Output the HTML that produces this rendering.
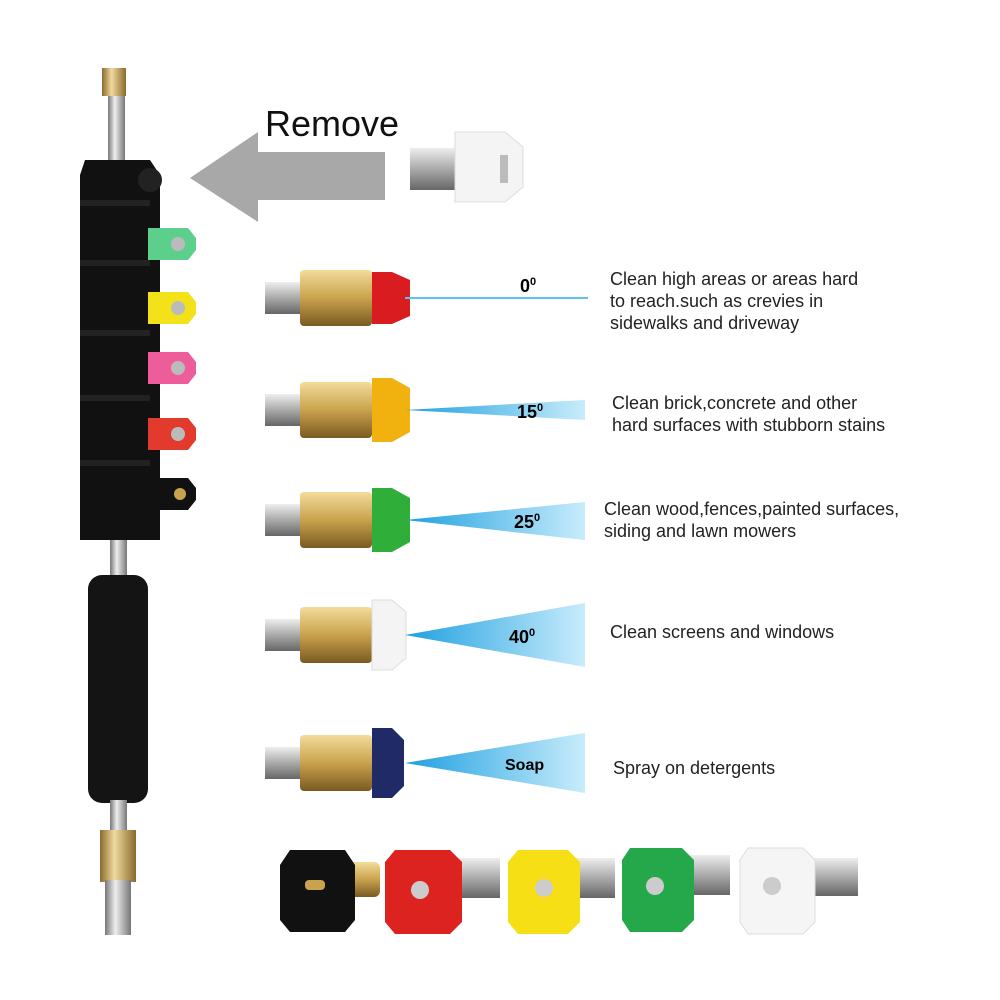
<!DOCTYPE html>
<html><head><meta charset="utf-8"><style>
body{margin:0;background:#fff;}
svg{display:block;}
text{font-family:"Liberation Sans",sans-serif;}
</style></head><body>
<svg width="1000" height="1000" viewBox="0 0 1000 1000" xmlns="http://www.w3.org/2000/svg">
<defs>
<linearGradient id="silver" x1="0" y1="0" x2="0" y2="1"><stop offset="0" stop-color="#eee"/><stop offset=".5" stop-color="#aaa"/><stop offset="1" stop-color="#666"/></linearGradient>
<linearGradient id="silverv" x1="0" y1="0" x2="1" y2="0"><stop offset="0" stop-color="#777"/><stop offset=".4" stop-color="#eee"/><stop offset="1" stop-color="#777"/></linearGradient>
<linearGradient id="brass" x1="0" y1="0" x2="0" y2="1"><stop offset="0" stop-color="#f3dc9a"/><stop offset=".5" stop-color="#c9a24e"/><stop offset="1" stop-color="#7a5a20"/></linearGradient>
<linearGradient id="brassv" x1="0" y1="0" x2="1" y2="0"><stop offset="0" stop-color="#8a6a2a"/><stop offset=".4" stop-color="#f0d9a0"/><stop offset="1" stop-color="#8a6a2a"/></linearGradient>
<linearGradient id="spray" x1="0" y1="0" x2="1" y2="0"><stop offset="0" stop-color="#1fa0e0"/><stop offset="1" stop-color="#c8ecfb"/></linearGradient>
</defs>

<rect x="102" y="68" width="24" height="28" fill="url(#brassv)"/>
<rect x="108" y="96" width="17" height="70" fill="url(#silverv)"/>
<path d="M85 160 L150 160 L160 175 L160 540 L80 540 L80 175 Z" fill="#111"/>
<g fill="#222">
<rect x="80" y="200" width="70" height="6"/><rect x="80" y="260" width="70" height="6"/><rect x="80" y="330" width="70" height="6"/><rect x="80" y="395" width="70" height="6"/><rect x="80" y="460" width="70" height="6"/>
</g>
<circle cx="150" cy="180" r="12" fill="#222"/>
<rect x="110" y="540" width="17" height="40" fill="url(#silverv)"/>
<rect x="88" y="575" width="60" height="228" rx="14" fill="#141414"/>
<rect x="110" y="800" width="17" height="32" fill="url(#silverv)"/>
<rect x="100" y="830" width="36" height="52" fill="url(#brassv)"/>
<rect x="105" y="880" width="26" height="55" fill="url(#silverv)"/>

<g>
<path d="M148 228 h40 l8 10 v12 l-8 10 h-40 z" fill="#5ccf8c"/><circle cx="178" cy="244" r="7" fill="#bbb"/>
<path d="M148 292 h40 l8 10 v12 l-8 10 h-40 z" fill="#f3e21a"/><circle cx="178" cy="308" r="7" fill="#bbb"/>
<path d="M148 352 h40 l8 10 v12 l-8 10 h-40 z" fill="#ee5d9a"/><circle cx="178" cy="368" r="7" fill="#bbb"/>
<path d="M148 418 h40 l8 10 v12 l-8 10 h-40 z" fill="#e23a2c"/><circle cx="178" cy="434" r="7" fill="#bbb"/>
<path d="M148 478 h40 l8 10 v12 l-8 10 h-40 z" fill="#111"/><circle cx="180" cy="494" r="6" fill="#c9a24e"/>
</g>

<polygon points="190,178 258,132 258,152 385,152 385,200 258,200 258,222" fill="#a8a8a8"/>
<text x="265" y="136" font-size="36" fill="#111">Remove</text>
<rect x="410" y="148" width="50" height="42" fill="url(#silver)"/>
<path d="M455 132 h50 l18 15 v40 l-18 15 h-50 z" fill="#f4f4f4" stroke="#ddd"/>
<rect x="500" y="155" width="8" height="28" fill="#bbb"/>

<g>
<rect x="265" y="282" width="40" height="32" fill="url(#silver)"/>
<rect x="300" y="270" width="72" height="56" rx="4" fill="url(#brass)"/>
<path d="M372 272 h20 l18 8 v36 l-18 8 h-20 z" fill="#d91c20"/>
<line x1="405" y1="298" x2="588" y2="298" stroke="#5cc3ee" stroke-width="2"/>
<text x="520" y="292" font-size="18" font-weight="bold">0<tspan font-size="11" dy="-7">0</tspan></text>
<rect x="265" y="394" width="40" height="32" fill="url(#silver)"/>
<rect x="300" y="382" width="72" height="56" rx="4" fill="url(#brass)"/>
<path d="M372 378 h20 l18 10 v44 l-18 10 h-20 z" fill="#f1b10f"/>
<polygon points="405,410 585,400 585,420" fill="url(#spray)"/>
<text x="517" y="418" font-size="18" font-weight="bold">15<tspan font-size="11" dy="-7">0</tspan></text>
<rect x="265" y="504" width="40" height="32" fill="url(#silver)"/>
<rect x="300" y="492" width="72" height="56" rx="4" fill="url(#brass)"/>
<path d="M372 488 h20 l18 10 v44 l-18 10 h-20 z" fill="#2fae3a"/>
<polygon points="405,520 585,502 585,540" fill="url(#spray)"/>
<text x="514" y="528" font-size="18" font-weight="bold">25<tspan font-size="11" dy="-7">0</tspan></text>
<rect x="265" y="619" width="40" height="32" fill="url(#silver)"/>
<rect x="300" y="607" width="72" height="56" rx="4" fill="url(#brass)"/>
<path d="M372 600 h20 l14 12 v46 l-14 12 h-20 z" fill="#f4f4f4" stroke="#ddd"/>
<polygon points="405,635 585,603 585,667" fill="url(#spray)"/>
<text x="509" y="643" font-size="18" font-weight="bold">40<tspan font-size="11" dy="-7">0</tspan></text>
<rect x="265" y="747" width="40" height="32" fill="url(#silver)"/>
<rect x="300" y="735" width="72" height="56" rx="4" fill="url(#brass)"/>
<path d="M372 728 h20 l12 12 v46 l-12 12 h-20 z" fill="#1f2a66"/>
<polygon points="405,763 585,733 585,793" fill="url(#spray)"/>
<text x="505" y="770" font-size="16" font-weight="bold">Soap</text>
</g>

<g font-size="18" fill="#222">
<text x="610" y="285">Clean high areas or areas hard</text>
<text x="610" y="307">to reach.such as crevies in</text>
<text x="610" y="329">sidewalks and driveway</text>
<text x="612" y="409">Clean brick,concrete and other</text>
<text x="612" y="431">hard surfaces with stubborn stains</text>
<text x="604" y="515">Clean wood,fences,painted surfaces,</text>
<text x="604" y="537">siding and lawn mowers</text>
<text x="610" y="638">Clean screens and windows</text>
<text x="613" y="774">Spray on detergents</text>
</g>

<g>
<rect x="345" y="862" width="35" height="35" rx="6" fill="url(#brass)"/>
<path d="M290 850 h55 l10 15 v55 l-10 12 h-55 l-10 -12 v-55 z" fill="#111"/>
<rect x="305" y="880" width="20" height="10" rx="4" fill="#c9a24e"/>
<rect x="455" y="858" width="45" height="40" fill="url(#silver)"/>
<path d="M395 850 h55 l12 12 v60 l-12 12 h-55 l-10 -12 v-60 z" fill="#dd2320"/>
<circle cx="420" cy="890" r="9" fill="#ccc"/>
<rect x="575" y="858" width="40" height="40" fill="url(#silver)"/>
<path d="M518 850 h50 l12 12 v60 l-12 12 h-50 l-10 -12 v-60 z" fill="#f6df14"/>
<circle cx="544" cy="888" r="9" fill="#ccc"/>
<rect x="690" y="855" width="40" height="40" fill="url(#silver)"/>
<path d="M630 848 h52 l12 12 v60 l-12 12 h-52 l-8 -12 v-60 z" fill="#25a84a"/>
<circle cx="655" cy="886" r="9" fill="#ccc"/>
<rect x="810" y="858" width="48" height="38" fill="url(#silver)"/>
<path d="M748 848 h55 l12 12 v62 l-12 12 h-55 l-8 -12 v-62 z" fill="#f5f5f5" stroke="#ddd"/>
<circle cx="772" cy="886" r="9" fill="#ccc"/>
</g>
</svg>
</body></html>
